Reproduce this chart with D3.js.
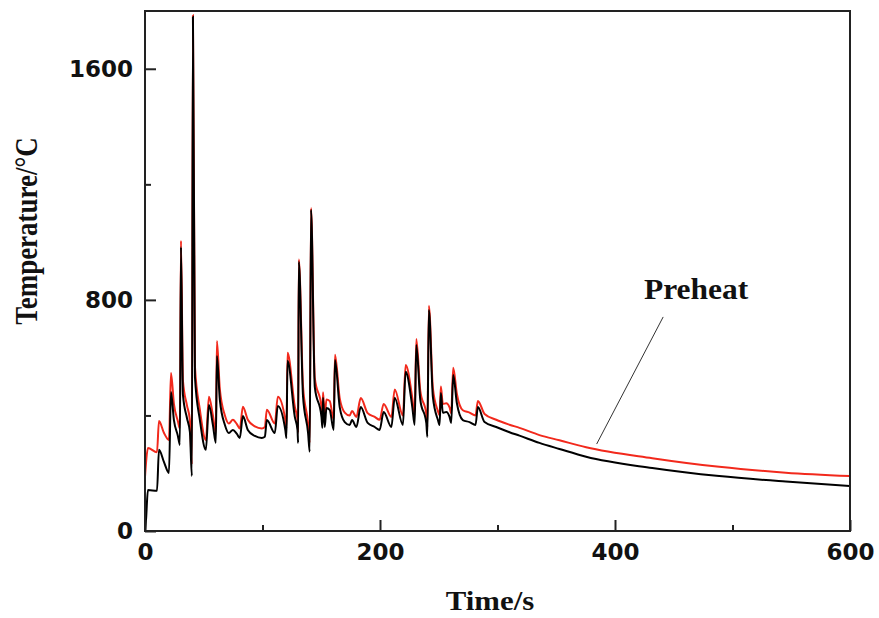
<!DOCTYPE html>
<html>
<head>
<meta charset="utf-8">
<script src="https://cdn.jsdelivr.net/npm/d3@7"></script>
<style>
  body { margin: 0; background: #fff; }
</style>
</head>
<body>
<div id="chart"></div>
<script>
// time axis (s)
var timeS = [0, 0.85, 2.5, 10.2, 11.9, 16.1, 20.4, 22.1, 24.6, 28, 29.7, 30.6, 32.3, 35.7, 38.2, 39.9, 40.8, 42.5, 46.7, 51.8,
    54.4, 57.8, 60.3, 61.2, 63.7, 68, 71.4, 74.8, 78.2, 80.7, 83.3, 87.5, 93.5, 99.4, 102, 103.7, 110.5, 113, 119.4, 120.4,
    121.3, 127.5, 129.8, 130.3, 130.9, 134.5, 138.8, 140.2, 141.3, 144.5, 150.2, 151, 151.5, 153, 154.4, 157.2, 160.6, 161.7, 165.7, 170,
    174.2, 176.2, 179.9, 183.6, 189.5, 195.5, 199.7, 203.1, 209.7, 212.5, 219.5, 221.8, 227.5, 229.5, 230.9, 234.3, 239.4, 240.3, 241.6, 245,
    249.3, 250.7, 251.8, 253.5, 256.4, 259.2, 260.6, 262.3, 265.4, 270.5, 276.2, 281.3, 283.3, 289, 298.9, 310.2, 318.7, 335.7, 352.7, 375.4,
    431.7, 488.7, 545.3, 600]

// black curve (no preheat)
var tempBlack = [0, 38, 142, 139, 281, 239, 201, 481, 384, 329, 298, 983, 471, 391, 343, 190, 1780, 533, 384, 281,
    436, 367, 305, 606, 454, 367, 339, 350, 336, 322, 398, 350, 329, 322, 326, 384, 339, 433, 350, 322,
    589, 395, 350, 305, 932, 465, 339, 274, 1112, 499, 395, 357, 461, 360, 426, 419, 350, 592, 429, 377,
    367, 384, 360, 429, 374, 360, 350, 412, 360, 461, 367, 551, 429, 367, 644, 454, 374, 326, 765, 464,
    384, 367, 478, 409, 412, 395, 374, 540, 443, 384, 377, 367, 429, 377, 360, 342, 330, 305, 284, 257,
    218, 190, 171, 156]

// red curve (preheat)
var tempRed = [187, 235, 287, 273, 381, 340, 315, 547, 440, 380, 355, 1005, 520, 435, 385, 230, 1785, 570, 420, 315,
    465, 400, 340, 658, 490, 400, 372, 385, 370, 355, 430, 385, 362, 355, 360, 420, 372, 465, 385, 355,
    617, 430, 385, 340, 940, 500, 372, 305, 1118, 530, 430, 390, 480, 395, 455, 450, 385, 610, 460, 410,
    400, 415, 395, 460, 408, 395, 385, 440, 395, 490, 400, 575, 460, 400, 665, 485, 405, 360, 780, 495,
    415, 400, 500, 440, 442, 428, 408, 565, 475, 418, 410, 400, 450, 405, 385, 368, 357, 332, 314, 290,
    252, 222, 202, 190]

var xTicks = [0, 200, 400, 600]
var xMinor = [100, 300, 500]
var yTicks = [0, 800, 1600]
var yMinor = [400, 1200]

// annotation: label and pointer end points [time, temp]
var noteText = "Preheat"
var noteAt = [469, 803]
var notePointer = [[441, 741], [384.4, 301]]

var margin = {top: 11, right: 29, bottom: 87, left: 145},
    width = 879 - margin.left - margin.right,
    height = 618 - margin.top - margin.bottom;

var svg = d3.select("#chart")
    .append("svg")
    .attr("width", 879)
    .attr("height", 618)
    .append("g")
    .attr("transform", "translate(" + margin.left + "," + margin.top + ")");

var x = d3.scaleLinear().domain([0, 600]).range([0, width]);
var y = d3.scaleLinear().domain([0, 1800]).range([height, 0]);

var redData = timeS.map(function(t, i) { return {t: t, v: tempRed[i]} })
var blackData = timeS.map(function(t, i) { return {t: t, v: tempBlack[i]} })

var line = d3.line()
    .x(function(d) { return x(d.t) })
    .y(function(d) { return y(d.v) })
    .curve(d3.curveMonotoneX);

var plot = svg.append("g");

plot.append("path")
    .attr("d", line(redData))
    .attr("fill", "none")
    .attr("stroke", "#f2291c")
    .attr("stroke-width", 2);

plot.append("path")
    .attr("d", line(blackData))
    .attr("fill", "none")
    .attr("stroke", "#000")
    .attr("stroke-width", 2);

// axes with inward ticks
var tickFont = "'DejaVu Sans', sans-serif";
var fmt = d3.format("d");

var xAxis = svg.append("g")
    .attr("transform", "translate(0," + height + ")")
    .call(d3.axisBottom(x).tickValues(xTicks).tickFormat(fmt).tickSizeInner(-11).tickSizeOuter(0).tickPadding(13));
var xAxisMinor = svg.append("g")
    .attr("transform", "translate(0," + height + ")")
    .call(d3.axisBottom(x).tickValues(xMinor).tickSizeInner(-6).tickSizeOuter(0).tickFormat(""));

var yAxis = svg.append("g")
    .call(d3.axisLeft(y).tickValues(yTicks).tickFormat(fmt).tickSizeInner(-11).tickSizeOuter(0).tickPadding(12));
var yAxisMinor = svg.append("g")
    .call(d3.axisLeft(y).tickValues(yMinor).tickSizeInner(-6).tickSizeOuter(0).tickFormat(""));

[xAxis, xAxisMinor, yAxis, yAxisMinor].forEach(function(a) {
    a.select(".domain").remove();
    a.selectAll("line").attr("stroke", "#222").attr("stroke-width", 2);
    a.selectAll("text")
        .style("font-family", tickFont)
        .style("font-weight", "bold")
        .style("font-size", "23px")
        .attr("fill", "#111");
});

// frame
svg.append("rect")
    .attr("width", width)
    .attr("height", height)
    .attr("fill", "none")
    .attr("stroke", "#222")
    .attr("stroke-width", 2);

// axis titles
svg.append("text")
    .attr("transform", "translate(" + (490 - margin.left) + "," + (610 - margin.top) + ") scale(1.1,1)")
    .attr("text-anchor", "middle")
    .style("font-family", "'Liberation Serif', 'Times New Roman', serif")
    .style("font-weight", "bold")
    .style("font-size", "28px")
    .attr("fill", "#111")
    .text("Time/s");

svg.append("text")
    .attr("transform", "translate(" + (37 - margin.left) + "," + (231 - margin.top) + ") scale(1.2,1) rotate(-90)")
    .attr("text-anchor", "middle")
    .style("font-family", "'Liberation Serif', 'Times New Roman', serif")
    .style("font-weight", "bold")
    .style("font-size", "27px")
    .attr("fill", "#111")
    .text("Temperature/\u00b0C");

// annotation
svg.append("line")
    .attr("x1", x(notePointer[0][0]))
    .attr("y1", y(notePointer[0][1]))
    .attr("x2", x(notePointer[1][0]))
    .attr("y2", y(notePointer[1][1]))
    .attr("stroke", "#333")
    .attr("stroke-width", 1);

svg.append("text")
    .attr("transform", "translate(" + x(noteAt[0]) + "," + y(noteAt[1]) + ") scale(1.05,1)")
    .attr("text-anchor", "middle")
    .style("font-family", "'Liberation Serif', 'Times New Roman', serif")
    .style("font-weight", "bold")
    .style("font-size", "30px")
    .attr("fill", "#111")
    .text(noteText);
</script>
</body>
</html>
